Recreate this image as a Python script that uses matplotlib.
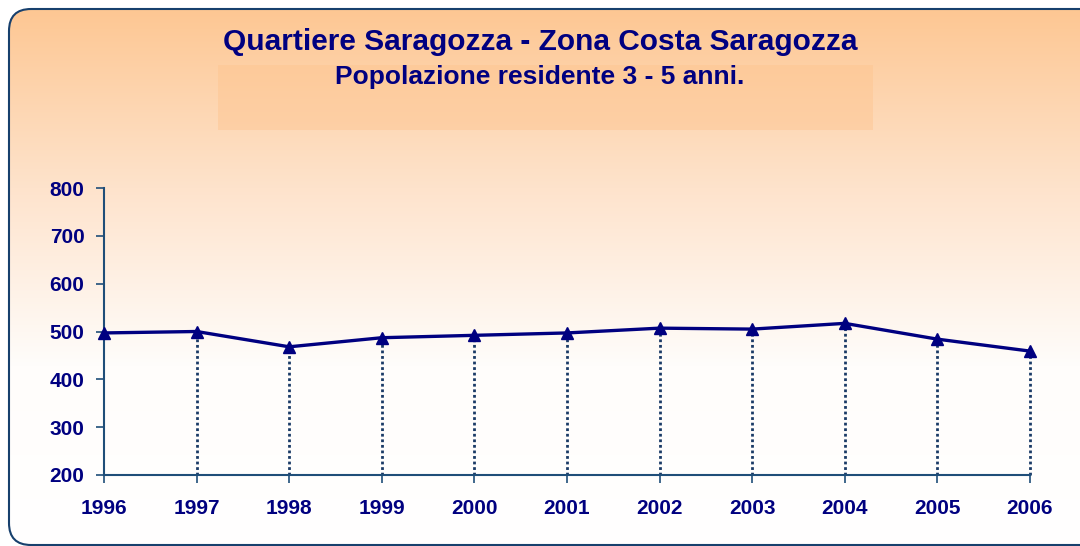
import numpy as np
import matplotlib.pyplot as plt
from matplotlib.patches import FancyBboxPatch, Rectangle
from matplotlib.colors import LinearSegmentedColormap

plt.rcParams['font.family'] = ['Liberation Sans', 'DejaVu Sans']
plt.rcParams['font.weight'] = 'bold'

# data
years = [1996, 1997, 1998, 1999, 2000, 2001, 2002, 2003, 2004, 2005, 2006]
population = [497, 500, 468, 487, 492, 497, 507, 505, 517, 484, 459]
yticks = [200, 300, 400, 500, 600, 700, 800]

navy = '#000080'
axis_col = '#1F4E79'

fig = plt.figure(figsize=(10.8, 5.46), dpi=100)
fig.patch.set_facecolor('white')

# background panel with gradient
bg = fig.add_axes([0, 0, 1, 1], zorder=0)
bg.axis('off')
cmap = LinearSegmentedColormap.from_list('peach', ['#FDC793', '#FEE3CC', '#FFFDFB', '#FFFFFF'])
grad = np.linspace(0, 1, 256).reshape(-1, 1)
panel = FancyBboxPatch((9, 9), 1200, 536, boxstyle='round,pad=0,rounding_size=22',
                       facecolor='none', edgecolor='#17406D', linewidth=1.5, zorder=3)
bg.add_patch(panel)
im = bg.imshow(grad, cmap=cmap, extent=[9, 1209, 545, 9], aspect='auto', zorder=1)
im.set_clip_path(panel)
bg.add_patch(Rectangle((218, 65), 655, 65, facecolor='#FDC48E', alpha=0.45,
                       edgecolor='none', zorder=2))
bg.set_xlim(0, 1080)
bg.set_ylim(546, 0)

fig.text(0.5, 1 - 42 / 546, 'Quartiere Saragozza - Zona Costa Saragozza',
         ha='center', va='center', fontsize=21.5, color=navy, fontweight='bold')
fig.text(0.5, 1 - 77 / 546, 'Popolazione residente 3 - 5 anni.',
         ha='center', va='center', fontsize=19, color=navy, fontweight='bold')

ax = fig.add_axes([104 / 1080, 1 - 475 / 546, 926 / 1080, 287 / 546], zorder=2)
ax.patch.set_alpha(0)
ax.set_xlim(1996, 2006)
ax.set_ylim(200, 800)

ax.vlines(years[1:], 200, population[1:], colors='#1A3A66', linestyles=(0, (1.0, 1.0)),
          linewidth=2.0, zorder=2, clip_on=False)
ax.plot(years, population, color=navy, linewidth=2.4, marker='^', markersize=8.5,
        clip_on=False, zorder=3)

ax.set_xticks(years)
ax.set_yticks(yticks)
ax.tick_params(axis='both', colors=axis_col, labelcolor=navy, labelsize=15,
               length=6, width=1.2, direction='out')
ax.tick_params(axis='x', pad=11)
ax.tick_params(axis='y', pad=8)
for lbl in ax.get_xticklabels() + ax.get_yticklabels():
    lbl.set_fontweight('bold')
for side in ['top', 'right']:
    ax.spines[side].set_visible(False)
for side in ['left', 'bottom']:
    ax.spines[side].set_color(axis_col)
    ax.spines[side].set_linewidth(1.5)

fig.savefig('out.png', dpi=100)
